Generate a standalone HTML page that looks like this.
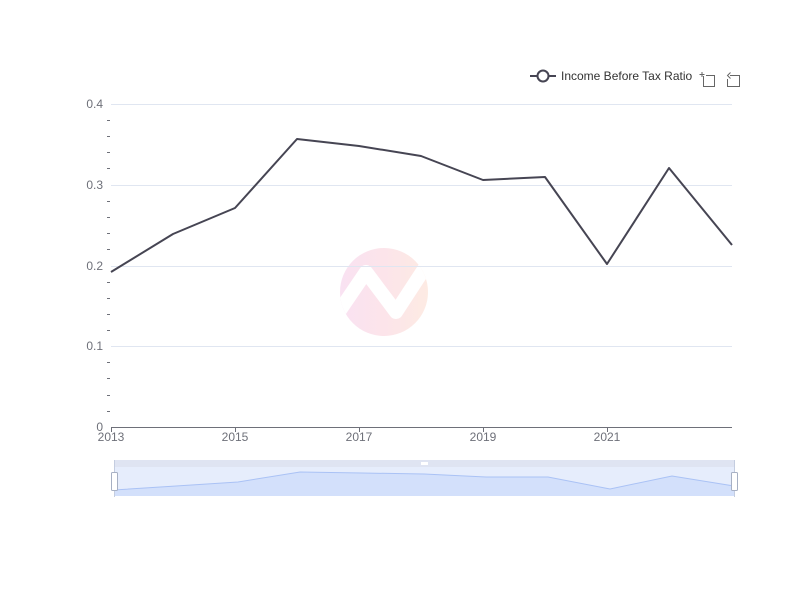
<!DOCTYPE html>
<html><head><meta charset="utf-8"><style>
html,body{margin:0;padding:0;background:#fff;}
svg{display:block;font-family:"Liberation Sans",sans-serif;}
</style></head><body>
<svg width="800" height="600" viewBox="0 0 800 600" xmlns="http://www.w3.org/2000/svg">
<defs>
<linearGradient id="wm" x1="0" y1="0" x2="1" y2="0">
<stop offset="0" stop-color="#f9e2f2"/>
<stop offset="0.5" stop-color="#fce4ea"/>
<stop offset="1" stop-color="#fdebe3"/>
</linearGradient>
<clipPath id="cc"><circle cx="384" cy="292" r="44"/></clipPath>
</defs>
<rect width="800" height="600" fill="#fff"/>
<!-- watermark -->
<circle cx="384" cy="292" r="44" fill="url(#wm)"/>
<g clip-path="url(#cc)">
<polyline points="336,316 366,272 396,312 428,263" fill="none" stroke="#fff" stroke-width="14" stroke-linejoin="round" stroke-linecap="round"/>
</g>
<!-- grid -->
<g stroke="#e0e6f1" stroke-width="1">
<line x1="111" y1="104.5" x2="732" y2="104.5"/>
<line x1="111" y1="185.5" x2="732" y2="185.5"/>
<line x1="111" y1="266.5" x2="732" y2="266.5"/>
<line x1="111" y1="346.5" x2="732" y2="346.5"/>
</g>
<!-- minor ticks -->
<g stroke="#6e7079" stroke-width="1">
<line x1="107" y1="120.5" x2="110" y2="120.5"/>
<line x1="107" y1="136.5" x2="110" y2="136.5"/>
<line x1="107" y1="152.5" x2="110" y2="152.5"/>
<line x1="107" y1="168.5" x2="110" y2="168.5"/>
<line x1="107" y1="201.5" x2="110" y2="201.5"/>
<line x1="107" y1="217.5" x2="110" y2="217.5"/>
<line x1="107" y1="233.5" x2="110" y2="233.5"/>
<line x1="107" y1="249.5" x2="110" y2="249.5"/>
<line x1="107" y1="282.5" x2="110" y2="282.5"/>
<line x1="107" y1="298.5" x2="110" y2="298.5"/>
<line x1="107" y1="314.5" x2="110" y2="314.5"/>
<line x1="107" y1="330.5" x2="110" y2="330.5"/>
<line x1="107" y1="362.5" x2="110" y2="362.5"/>
<line x1="107" y1="378.5" x2="110" y2="378.5"/>
<line x1="107" y1="395.5" x2="110" y2="395.5"/>
<line x1="107" y1="411.5" x2="110" y2="411.5"/>
</g>
<!-- y labels -->
<g fill="#6e7079" font-size="12" text-anchor="end">
<text x="103" y="108">0.4</text>
<text x="103" y="189">0.3</text>
<text x="103" y="270">0.2</text>
<text x="103" y="350">0.1</text>
<text x="103" y="431">0</text>
</g>
<!-- x axis -->
<line x1="111" y1="427.5" x2="732" y2="427.5" stroke="#6e7079" stroke-width="1"/>
<g stroke="#6e7079" stroke-width="1">
<line x1="111.5" y1="427" x2="111.5" y2="432"/>
<line x1="235.5" y1="427" x2="235.5" y2="432"/>
<line x1="359.5" y1="427" x2="359.5" y2="432"/>
<line x1="483.5" y1="427" x2="483.5" y2="432"/>
<line x1="607.5" y1="427" x2="607.5" y2="432"/>
</g>
<g fill="#6e7079" font-size="12" text-anchor="middle">
<text x="111" y="441">2013</text>
<text x="235" y="441">2015</text>
<text x="359" y="441">2017</text>
<text x="483" y="441">2019</text>
<text x="607" y="441">2021</text>
</g>
<!-- series -->
<polyline points="111,272 173,234 235,208 297,139 359,146 421,156 483,180 545,177 607,264 669,168 732,245" fill="none" stroke="#464553" stroke-width="2" stroke-linejoin="round"/>
<!-- legend -->
<line x1="530" y1="76" x2="556" y2="76" stroke="#464553" stroke-width="2"/>
<circle cx="543" cy="76" r="5.5" fill="#fff" stroke="#464553" stroke-width="2"/>
<text x="561" y="80" font-size="12" fill="#333">Income Before Tax Ratio</text>
<!-- toolbox icons -->
<g fill="none" stroke="#666" stroke-width="1">
<path d="M703.5,76 V86.5 H714.5 V75.5 H706"/>
<path d="M699.5,74.5 H704.5 M702,72 V77"/>
<path d="M730,75.5 H739.5 V86.5 H727.5 V79"/>
<path d="M730.5,72.5 L727.5,75.5 L730.5,78.5"/>
</g>
<!-- datazoom -->
<rect x="114" y="460" width="621" height="36" fill="#e6edfc" opacity="1"/>
<rect x="114" y="460" width="621" height="7" fill="#dfe4f2"/>
<polygon points="114,490 176,486 238,482 300,472 362,473 424,474 486,477 548,477 610,489 672,476 734,486 734,496 114,496" fill="#d3e0fb"/>
<polyline points="114,490 176,486 238,482 300,472 362,473 424,474 486,477 548,477 610,489 672,476 734,486" fill="none" stroke="#aac2f5" stroke-width="1"/>
<line x1="114.5" y1="460" x2="114.5" y2="497" stroke="#c4cde0" stroke-width="1"/>
<line x1="734.5" y1="460" x2="734.5" y2="497" stroke="#c4cde0" stroke-width="1"/>
<rect x="111.5" y="472.5" width="6" height="18" rx="1" fill="#fff" stroke="#a7b0c4" stroke-width="1"/>
<rect x="731.5" y="472.5" width="6" height="18" rx="1" fill="#fff" stroke="#a7b0c4" stroke-width="1"/>
<rect x="421" y="462" width="7" height="3" fill="#fff"/>
</svg>
</body></html>
